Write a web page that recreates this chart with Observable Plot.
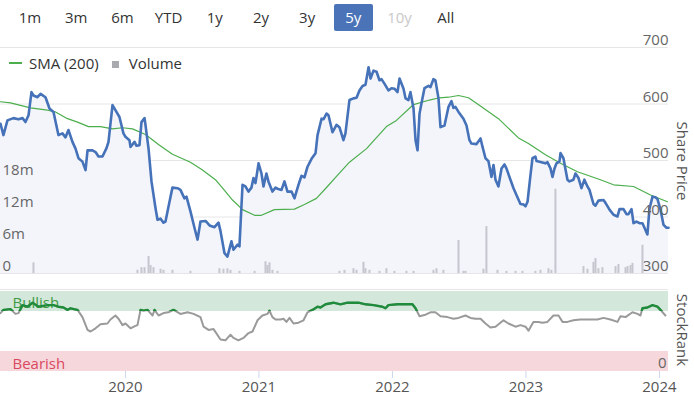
<!DOCTYPE html>
<html>
<head>
<meta charset="utf-8">
<script src="https://cdn.jsdelivr.net/npm/d3@7"></script>
<script src="https://cdn.jsdelivr.net/npm/@observablehq/plot@0.6"></script>
<style>
  html, body { margin: 0; padding: 0; background: #fff; }
  body { width: 694px; height: 396px; overflow: hidden; font-family: "Open Sans", sans-serif; }
  #wrap { position: relative; width: 694px; height: 396px; }
  .abs { position: absolute; left: 0; top: 0; }
  #buttons { position: absolute; left: 10.5px; top: 4px; display: flex; gap: 7.2px; }
  #buttons span { display: block; width: 39px; height: 27px; line-height: 27px; text-align: center;
    font-size: 15px; color: #333; border-radius: 2px; }
  #buttons span.active { background: #4a73b8; color: #fff; }
  #buttons span.disabled { color: #c8c8c8; }
  #legend { position: absolute; left: 9px; top: 52px; font-size: 15px; color: #333; display: flex; align-items: center; height: 22px; }
  #legend .ln { width: 13px; height: 1.5px; background: #4cae4c; margin-right: 7px; }
  #legend .sq { width: 7px; height: 7px; background: #a9a9b0; margin-left: 13px; margin-right: 10px; margin-top: 2px; }
  .vlabel { position: absolute; font-size: 15px; color: #555; white-space: nowrap;
    transform: translate(-50%, -50%) rotate(90deg); }
</style>
</head>
<body>
<div id="wrap">
  <div id="buttons"></div>
  <div id="price" class="abs"></div>
  <div id="vol" class="abs"></div>
  <div id="legend"><div class="ln"></div><span>SMA (200)</span><div class="sq"></div><span>Volume</span></div>
  <div id="rank" class="abs" style="top:280px"></div>
  <div id="rankG" class="abs" style="top:291px"></div>
  <div class="vlabel" style="left:683px; top:161px">Share Price</div>
  <div class="vlabel" style="left:683px; top:330px">StockRank</div>
</div>
<script>
// ---- data (time as decimal year) ----
const ranges = ["1m","3m","6m","YTD","1y","2y","3y","5y","10y","All"];
const activeRange = "5y";
const disabledRange = "10y";

const priceT = [2019.064,2019.086,2019.116,2019.161,2019.199,2019.229,2019.251,2019.274,2019.296,2019.311,2019.341,2019.364,2019.401,2019.431,2019.461,2019.498,2019.528,2019.551,2019.573,2019.603,2019.626,2019.648,2019.678,2019.701,2019.716,2019.753,2019.776,2019.798,2019.828,2019.858,2019.873,2019.903,2019.925,2019.955,2019.985,2020.000,2020.030,2020.038,2020.068,2020.083,2020.105,2020.120,2020.143,2020.150,2020.173,2020.195,2020.225,2020.240,2020.263,2020.285,2020.300,2020.330,2020.352,2020.390,2020.412,2020.442,2020.457,2020.487,2020.517,2020.540,2020.562,2020.600,2020.630,2020.667,2020.697,2020.712,2020.742,2020.764,2020.794,2020.809,2020.839,2020.854,2020.877,2020.899,2020.922,2020.944,2020.959,2020.974,2020.997,2021.019,2021.034,2021.056,2021.071,2021.101,2021.124,2021.139,2021.169,2021.191,2021.214,2021.244,2021.266,2021.296,2021.319,2021.341,2021.364,2021.394,2021.424,2021.439,2021.469,2021.484,2021.506,2021.521,2021.551,2021.581,2021.603,2021.633,2021.648,2021.678,2021.708,2021.731,2021.753,2021.776,2021.798,2021.821,2021.836,2021.858,2021.881,2021.903,2021.918,2021.940,2021.970,2021.993,2022.015,2022.038,2022.053,2022.083,2022.098,2022.120,2022.135,2022.158,2022.173,2022.188,2022.203,2022.225,2022.240,2022.270,2022.285,2022.307,2022.322,2022.345,2022.360,2022.390,2022.420,2022.442,2022.457,2022.472,2022.495,2022.532,2022.555,2022.577,2022.592,2022.630,2022.660,2022.675,2022.697,2022.719,2022.742,2022.757,2022.772,2022.794,2022.817,2022.839,2022.854,2022.884,2022.907,2022.929,2022.959,2022.982,2022.997,2023.012,2023.034,2023.049,2023.071,2023.079,2023.116,2023.146,2023.161,2023.184,2023.199,2023.214,2023.229,2023.251,2023.259,2023.281,2023.311,2023.326,2023.356,2023.371,2023.394,2023.416,2023.438,2023.461,2023.476,2023.506,2023.521,2023.543,2023.581,2023.596,2023.626,2023.656,2023.686,2023.701,2023.731,2023.753,2023.768,2023.791,2023.806,2023.828,2023.851,2023.873,2023.888,2023.910,2023.925,2023.948,2023.970,2023.985,2024.008,2024.031,2024.053,2024.068];
const priceV = [565,545,571,575,573,575,568,580,621,615,612,618,612,592,586,545,548,541,554,533,521,504,498,483,518,518,515,507,507,522,533,598,589,577,548,542,536,524,533,526,527,568,575,563,521,463,416,395,397,390,392,427,452,451,448,433,436,410,381,360,392,393,385,382,390,375,336,330,357,342,351,348,457,454,445,452,469,460,495,477,454,477,463,445,452,450,448,463,445,445,433,457,473,470,489,503,513,545,574,573,583,580,550,563,559,536,548,607,610,611,624,632,634,665,645,659,657,642,644,636,624,628,627,621,645,627,610,607,621,592,536,518,583,610,628,632,630,644,642,610,559,562,595,605,593,595,586,574,562,536,530,529,539,524,504,499,471,492,466,454,486,493,486,466,451,439,423,422,419,427,474,504,507,499,497,495,497,486,471,486,495,498,513,504,466,463,466,477,469,451,466,454,448,423,420,429,430,425,413,404,401,414,414,405,405,414,389,392,389,389,381,369,414,436,435,432,413,386,381,381];

const smaT = [2019.064,2019.139,2019.191,2019.289,2019.416,2019.476,2019.566,2019.641,2019.723,2019.813,2019.903,2019.978,2020.053,2020.150,2020.255,2020.352,2020.487,2020.577,2020.674,2020.742,2020.802,2020.877,2020.967,2021.019,2021.116,2021.266,2021.341,2021.431,2021.513,2021.581,2021.678,2021.806,2021.955,2022.030,2022.158,2022.277,2022.352,2022.420,2022.495,2022.570,2022.667,2022.794,2022.944,2023.019,2023.146,2023.259,2023.386,2023.558,2023.656,2023.806,2023.933,2024.060];
const smaV = [604,602,599,593,589,586,574,568,560,560,556,558,556,546,527,511,497,483,466,447,430,413,403,403,413,414,422,433,454,472,497,521,560,571,599,607,611,612,615,611,595,574,540,530,510,495,480,466,457,454,439,427];

const volT = [2019.311,2020.090,2020.120,2020.143,2020.173,2020.188,2020.210,2020.263,2020.285,2020.352,2020.487,2020.704,2020.734,2020.764,2020.787,2020.854,2020.967,2021.049,2021.064,2021.079,2021.101,2021.139,2021.603,2021.641,2021.708,2021.731,2021.783,2021.798,2021.828,2021.903,2021.955,2022.015,2022.105,2022.158,2022.307,2022.330,2022.382,2022.495,2022.532,2022.547,2022.682,2022.704,2022.787,2022.854,2022.922,2022.974,2023.071,2023.109,2023.169,2023.191,2023.221,2023.431,2023.461,2023.506,2023.521,2023.543,2023.573,2023.671,2023.693,2023.746,2023.761,2023.783,2023.798,2023.873];
const volV = [2.0,0.6,1.1,1.1,3.2,1.5,1.1,0.8,0.6,0.6,0.4,0.9,0.8,0.9,0.6,0.4,0.4,2.2,1.5,2.0,0.6,0.4,0.4,0.6,0.9,0.6,2.1,0.9,0.6,0.4,0.9,0.4,0.4,0.4,0.6,0.9,0.6,6.2,0.4,0.4,0.8,8.8,0.6,0.4,0.4,0.4,0.4,0.6,0.9,0.6,15.8,1.3,0.8,2.1,2.8,0.9,1.1,1.3,1.7,1.1,1.3,1.5,1.9,5.3];

const rankT = [2019.064,2019.086,2019.139,2019.176,2019.199,2019.229,2019.266,2019.304,2019.349,2019.416,2019.461,2019.498,2019.536,2019.566,2019.588,2019.641,2019.678,2019.716,2019.738,2019.776,2019.813,2019.865,2019.888,2019.925,2019.948,2019.978,2020.000,2020.038,2020.075,2020.090,2020.113,2020.135,2020.165,2020.203,2020.218,2020.248,2020.285,2020.322,2020.360,2020.412,2020.465,2020.510,2020.562,2020.585,2020.622,2020.660,2020.712,2020.749,2020.787,2020.809,2020.847,2020.884,2020.922,2020.952,2020.989,2021.026,2021.064,2021.079,2021.101,2021.124,2021.161,2021.184,2021.206,2021.229,2021.259,2021.296,2021.334,2021.364,2021.401,2021.439,2021.461,2021.499,2021.558,2021.611,2021.663,2021.746,2021.798,2021.858,2021.925,2021.948,2021.970,2022.038,2022.098,2022.150,2022.173,2022.203,2022.248,2022.285,2022.322,2022.360,2022.412,2022.457,2022.495,2022.547,2022.585,2022.622,2022.660,2022.697,2022.734,2022.772,2022.832,2022.869,2022.922,2022.959,2022.997,2023.019,2023.056,2023.094,2023.124,2023.161,2023.206,2023.244,2023.274,2023.311,2023.356,2023.408,2023.468,2023.536,2023.581,2023.633,2023.686,2023.708,2023.746,2023.798,2023.836,2023.858,2023.873,2023.910,2023.948,2023.985,2024.008,2024.045];
const rankV = [73,77,78,72,73,83,81,86,81,83,83,81,80,77,79,77,68,52,50,54,59,60,65,70,66,58,60,54,57,58,77,76,77,70,77,70,73,74,77,72,74,72,68,56,52,53,40,39,46,42,39,42,48,50,64,70,72,76,68,65,65,66,62,67,60,61,64,74,77,81,80,84,86,84,86,86,84,83,81,79,83,84,84,84,79,69,71,74,74,69,68,66,67,70,67,66,66,60,55,56,64,60,56,58,56,51,62,62,61,62,70,70,62,62,64,65,65,65,67,65,62,69,68,74,72,70,79,80,83,81,77,70];

const priceTicks = [300, 400, 500, 600, 700];
const volTicks = [0, 6, 12, 18];
const volTickLabels = ["0", "6m", "12m", "18m"];
const yearTicks = [2020, 2021, 2022, 2023, 2024];
const bandLabels = ["Bullish", "Bearish"];
const bandLow = [75, 0];
const bandHigh = [100, 25];

// ---- tables ----
const price = priceT.map((t, i) => ({t, v: priceV[i]}));
const sma = smaT.map((t, i) => ({t, v: smaV[i]}));
const vol = volT.map((t, i) => ({t, v: volV[i]}));
const rank = rankT.map((t, i) => ({t, v: rankV[i]}));
const bands = bandLabels.map((label, i) => ({label, y1: bandLow[i], y2: bandHigh[i]}));
const xDom = d3.extent(priceT);

const style = {fontFamily: "'Open Sans', sans-serif", fontSize: "15px", background: "transparent", overflow: "visible"};
const W = 694, MR = 26;

// buttons
const bd = document.getElementById("buttons");
ranges.forEach(r => {
  const s = document.createElement("span");
  s.textContent = r;
  if (r === activeRange) s.className = "active";
  if (r === disabledRange) s.className = "disabled";
  bd.appendChild(s);
});

// price panel
document.getElementById("price").append(Plot.plot({
  width: W, height: 280, marginTop: 47, marginBottom: 7, marginLeft: 0, marginRight: MR,
  style,
  x: {domain: xDom, axis: null},
  y: {domain: [300, 700], axis: null},
  marks: [
    Plot.ruleY(priceTicks, {stroke: "#e6e6e6", strokeWidth: 1}),
    Plot.areaY(price, {x: "t", y1: 300, y2: "v", fill: "#f3f5fb"}),
    Plot.line(sma, {x: "t", y: "v", stroke: "#4cae4c", strokeWidth: 1.2}),
    Plot.line(price, {x: "t", y: "v", stroke: "#4572b8", strokeWidth: 2.6, strokeLinejoin: "round"}),
    Plot.text(priceTicks, {y: d => d, text: d => String(d), frameAnchor: "right", textAnchor: "end", dy: -7, fill: "#666"})
  ]
}));

// volume overlay
document.getElementById("vol").append(Plot.plot({
  width: W, height: 280, marginTop: 47, marginBottom: 7, marginLeft: 0, marginRight: MR,
  style,
  x: {domain: xDom, axis: null},
  y: {domain: [0, 42.4], axis: null},
  marks: [
    Plot.ruleX(vol, {x: "t", y1: 0, y2: "v", stroke: "#c6c6ce", strokeWidth: 2}),
    Plot.text(volTicks, {y: d => d, text: (d, i) => volTickLabels[i], frameAnchor: "left", textAnchor: "start", dx: 2, dy: -7, fill: "#666"})
  ]
}));

// StockRank panel
document.getElementById("rank").append(Plot.plot({
  width: W, height: 116, marginTop: 11, marginBottom: 25, marginLeft: 0, marginRight: MR,
  style,
  x: {domain: xDom, axis: null},
  y: {domain: [0, 100], axis: null},
  marks: [
    Plot.ruleY([100], {stroke: "#e6e6e6", dy: -2}),
    Plot.rect([bands[0]], {x1: xDom[0], x2: xDom[1], y1: "y1", y2: "y2", fill: "#d3e8da"}),
    Plot.rect([bands[1]], {x1: xDom[0], x2: xDom[1], y1: "y1", y2: "y2", fill: "#f6d7db"}),
    Plot.text([bands[0]], {y: d => (d.y1 + d.y2) / 2, text: "label", frameAnchor: "left", textAnchor: "start", dx: 12, dy: 2, fill: "#3f9a45"}),
    Plot.text([bands[1]], {y: d => (d.y1 + d.y2) / 2, text: "label", frameAnchor: "left", textAnchor: "start", dx: 12, dy: 3, fill: "#d9485f"}),
    Plot.line(rank, {x: "t", y: "v", stroke: "#9a9a9a", strokeWidth: 2, strokeLinejoin: "round"}),
    Plot.text([0], {y: d => d, text: d => String(d), frameAnchor: "right", textAnchor: "end", dx: -2, dy: -8, fill: "#666"}),
    Plot.axisX({ticks: yearTicks, tickFormat: d => String(d), tickSize: 7, tickPadding: 3, stroke: "#ccd6eb", fill: "#555", label: null})
  ]
}));

// green (bullish) segment overlay, clipped to the bullish zone
document.getElementById("rankG").append(Plot.plot({
  width: W, height: 20, marginTop: 0, marginBottom: 0, marginLeft: 0, marginRight: MR,
  style,
  x: {domain: xDom, axis: null},
  y: {domain: [75, 100], axis: null},
  marks: [
    Plot.line(rank, {x: "t", y: "v", stroke: "#1f8c3b", strokeWidth: 2.4, strokeLinejoin: "round", clip: true})
  ]
}));
</script>
</body>
</html>
